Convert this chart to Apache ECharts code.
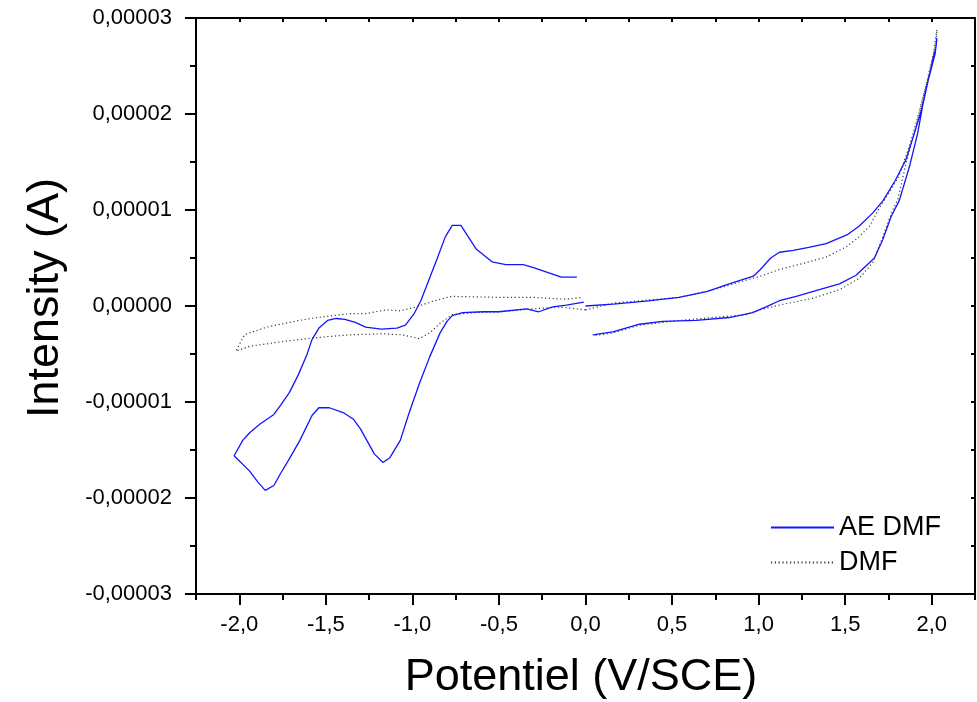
<!DOCTYPE html>
<html>
<head>
<meta charset="utf-8">
<title>Voltammogramme AE DMF / DMF</title>
<script src="https://cdn.jsdelivr.net/npm/echarts@6/dist/echarts.min.js"></script>
<style>
  html, body { margin: 0; padding: 0; background: #ffffff; }
  #chart { width: 977px; height: 702px; }
</style>
</head>
<body>
<div id="chart"></div>
<script>
// Potentials in V/SCE, currents in units of 1e-5 A (axis labels show amperes).

// AE DMF, negative window: sweep from 0 V down to -2.03 V
const aeNegFwdX = [-0.01, -0.11, -0.19, -0.27, -0.34, -0.50, -0.59, -0.71, -0.77, -0.80, -0.84, -0.90, -0.96, -1.02, -1.07, -1.13, -1.17, -1.22, -1.26, -1.30, -1.34, -1.40, -1.48, -1.54, -1.58, -1.65, -1.71, -1.76, -1.80, -1.85, -1.89, -1.94, -2.03];
const aeNegFwdY = [0.04, 0.01, -0.01, -0.06, -0.03, -0.06, -0.06, -0.07, -0.10, -0.16, -0.28, -0.53, -0.81, -1.12, -1.40, -1.58, -1.63, -1.54, -1.41, -1.28, -1.18, -1.11, -1.06, -1.06, -1.14, -1.40, -1.59, -1.74, -1.87, -1.92, -1.84, -1.72, -1.56];
// AE DMF, negative window: return sweep back towards 0 V
const aeNegRevX = [-1.98, -1.94, -1.88, -1.80, -1.76, -1.71, -1.66, -1.61, -1.58, -1.54, -1.49, -1.44, -1.39, -1.33, -1.27, -1.18, -1.09, -1.04, -0.99, -0.95, -0.92, -0.86, -0.81, -0.77, -0.72, -0.63, -0.54, -0.46, -0.36, -0.30, -0.14, -0.05];
const aeNegRevY = [-1.40, -1.32, -1.23, -1.13, -1.03, -0.90, -0.72, -0.51, -0.35, -0.23, -0.15, -0.13, -0.14, -0.17, -0.22, -0.24, -0.23, -0.20, -0.08, 0.06, 0.20, 0.48, 0.72, 0.84, 0.84, 0.59, 0.46, 0.43, 0.43, 0.40, 0.30, 0.30];
// AE DMF, positive window: sweep from 0 V up to 2.03 V
const aePosFwdX = [0.00, 0.16, 0.35, 0.54, 0.70, 0.83, 0.97, 1.01, 1.07, 1.12, 1.20, 1.29, 1.39, 1.51, 1.58, 1.66, 1.72, 1.79, 1.85, 1.90, 1.94, 1.97, 2.00, 2.02, 2.03];
const aePosFwdY = [0.00, 0.02, 0.05, 0.09, 0.15, 0.23, 0.31, 0.38, 0.50, 0.56, 0.58, 0.61, 0.65, 0.74, 0.83, 0.97, 1.10, 1.31, 1.52, 1.80, 2.04, 2.28, 2.49, 2.63, 2.79];
// AE DMF, positive window: return sweep
const aePosRevX = [2.025, 2.005, 1.976, 1.947, 1.919, 1.871, 1.813, 1.765, 1.717, 1.669, 1.563, 1.467, 1.351, 1.217, 1.120, 1.043, 0.966, 0.831, 0.639, 0.446, 0.312, 0.158, 0.042];
const aePosRevY = [2.70, 2.55, 2.32, 2.08, 1.80, 1.45, 1.10, 0.93, 0.69, 0.50, 0.32, 0.23, 0.17, 0.10, 0.055, -0.01, -0.07, -0.12, -0.15, -0.16, -0.19, -0.27, -0.30];

// DMF blank, negative window
const dmfNegFwdX = [0.00, -0.15, -0.30, -0.50, -0.65, -0.77, -0.84, -0.90, -0.96, -1.06, -1.17, -1.36, -1.56, -1.75, -1.94, -2.02];
const dmfNegFwdY = [-0.04, -0.01, -0.03, -0.06, -0.07, -0.09, -0.18, -0.28, -0.34, -0.30, -0.29, -0.30, -0.33, -0.37, -0.42, -0.47];
const dmfNegRevX = [-1.97, -1.94, -1.84, -1.79, -1.65, -1.59, -1.46, -1.36, -1.27, -1.15, -1.07, -0.98, -0.88, -0.80, -0.77, -0.50, -0.30, -0.21, -0.11, -0.02];
const dmfNegRevY = [-0.30, -0.28, -0.22, -0.20, -0.15, -0.13, -0.10, -0.08, -0.08, -0.04, -0.05, -0.01, 0.05, 0.09, 0.10, 0.09, 0.09, 0.08, 0.07, 0.09];
// DMF blank, positive window
const dmfPosFwdX = [0.00, 0.16, 0.35, 0.54, 0.74, 0.89, 1.01, 1.12, 1.27, 1.39, 1.51, 1.58, 1.64, 1.70, 1.74, 1.81, 1.87, 1.92, 1.97, 2.01, 2.03];
const dmfPosFwdY = [-0.04, 0.03, 0.06, 0.09, 0.17, 0.25, 0.31, 0.38, 0.45, 0.51, 0.62, 0.72, 0.83, 1.03, 1.14, 1.35, 1.66, 1.97, 2.32, 2.63, 2.88];
const dmfPosRevX = [2.025, 1.986, 1.947, 1.909, 1.852, 1.803, 1.774, 1.717, 1.659, 1.582, 1.467, 1.312, 1.120, 1.005, 0.928, 0.543, 0.312, 0.158, 0.042];
const dmfPosRevY = [2.74, 2.42, 2.15, 1.87, 1.49, 1.10, 1.00, 0.72, 0.45, 0.29, 0.17, 0.08, 0.01, -0.04, -0.09, -0.15, -0.20, -0.28, -0.31];

const seriesNames = ['AE DMF', 'DMF'];
const xTitle = 'Potentiel (V/SCE)';
const yTitle = 'Intensity (A)';

const FONT = '"Liberation Sans", Arial, Helvetica, sans-serif';
const GAP = ['-', '-'];

function pairs(xs, ys) {
  return xs.map((x, i) => [x, ys[i]]);
}

const aeData = [].concat(
  pairs(aeNegFwdX, aeNegFwdY), pairs(aeNegRevX, aeNegRevY), [GAP],
  pairs(aePosFwdX, aePosFwdY), pairs(aePosRevX, aePosRevY)
);
const dmfData = [].concat(
  pairs(dmfNegFwdX, dmfNegFwdY), pairs(dmfNegRevX, dmfNegRevY), [GAP],
  pairs(dmfPosFwdX, dmfPosFwdY), pairs(dmfPosRevX, dmfPosRevY)
);

const BLACK = '#000000';
const axisLineStyle = { color: BLACK, width: 2 };

function fmtCurrent(v) {
  const a = Math.abs(v) < 1e-9 ? 0 : v * 1e-5;
  return a.toFixed(5).replace('.', ',');
}
function fmtPotential(v) {
  const a = Math.abs(v) < 1e-9 ? 0 : v;
  return a.toFixed(1).replace('.', ',');
}

// main plot box spans -2.25..2.25 V over 779 px
const PLOT_LEFT = 196, PLOT_WIDTH = 779, PLOT_TOP = 18, PLOT_HEIGHT = 576;
const PX_PER_V = PLOT_WIDTH / 4.5;

const chart = echarts.init(document.getElementById('chart'), null, { renderer: 'canvas' });

chart.setOption({
  animation: false,
  backgroundColor: '#ffffff',
  textStyle: { fontFamily: FONT },
  grid: [
    { left: PLOT_LEFT, top: PLOT_TOP, width: PLOT_WIDTH, height: PLOT_HEIGHT },
    // labelled ticks every 0.5 V from -2.0 to 2.0
    { left: PLOT_LEFT + 0.25 * PX_PER_V, top: PLOT_TOP, width: 4 * PX_PER_V, height: PLOT_HEIGHT }
  ],
  xAxis: [
    {
      gridIndex: 0, type: 'value', position: 'bottom',
      min: -2.25, max: 2.25, interval: 0.25,
      axisLine: { show: true, onZero: false, lineStyle: axisLineStyle },
      axisTick: { show: true, inside: false, length: 6, lineStyle: axisLineStyle },
      axisLabel: { show: false },
      splitLine: { show: false }
    },
    {
      gridIndex: 0, type: 'value', position: 'top',
      min: -2.25, max: 2.25, interval: 0.25,
      axisLine: { show: true, onZero: false, lineStyle: axisLineStyle },
      axisTick: { show: true, inside: true, length: 4, lineStyle: axisLineStyle },
      axisLabel: { show: false },
      splitLine: { show: false }
    },
    {
      gridIndex: 1, type: 'value', position: 'bottom',
      min: -2, max: 2, interval: 0.5,
      axisLine: { show: false, onZero: false },
      axisTick: { show: true, inside: false, length: 11, lineStyle: axisLineStyle },
      axisLabel: {
        show: true, margin: 20, fontSize: 22, color: BLACK, fontFamily: FONT,
        formatter: fmtPotential
      },
      splitLine: { show: false }
    }
  ],
  yAxis: [
    {
      gridIndex: 0, type: 'value', position: 'left',
      min: -3, max: 3, interval: 1,
      axisLine: { show: true, onZero: false, lineStyle: axisLineStyle },
      axisTick: { show: true, inside: false, length: 11, lineStyle: axisLineStyle },
      minorTick: { show: true, splitNumber: 2, length: 6, lineStyle: axisLineStyle },
      axisLabel: {
        show: true, margin: 24, fontSize: 22, color: BLACK, fontFamily: FONT,
        formatter: fmtCurrent
      },
      splitLine: { show: false },
      minorSplitLine: { show: false }
    },
    {
      gridIndex: 0, type: 'value', position: 'right',
      min: -3, max: 3, interval: 0.5,
      axisLine: { show: true, onZero: false, lineStyle: axisLineStyle },
      axisTick: { show: true, inside: true, length: 4, lineStyle: axisLineStyle },
      axisLabel: { show: false },
      splitLine: { show: false }
    },
    { gridIndex: 1, type: 'value', show: false, min: 0, max: 1, splitLine: { show: false } }
  ],
  legend: {
    show: true,
    orient: 'vertical',
    left: 770,
    top: 514,
    padding: 0,
    itemGap: 8,
    itemWidth: 63,
    itemHeight: 14,
    selectedMode: false,
    data: seriesNames,
    // line samples only, no marker in the middle
    itemStyle: { opacity: 0, color: 'rgba(0,0,0,0)', borderWidth: 0 },
    textStyle: { fontSize: 27, color: BLACK, fontFamily: FONT }
  },
  graphic: [
    {
      type: 'text', x: 581, y: 678, silent: true,
      style: {
        text: xTitle, font: '45px ' + FONT, fill: BLACK,
        textAlign: 'center', textVerticalAlign: 'middle',
        align: 'center', verticalAlign: 'middle'
      }
    },
    {
      type: 'text', x: 46, y: 298, rotation: Math.PI / 2, silent: true,
      style: {
        text: yTitle, font: '45px ' + FONT, fill: BLACK,
        textAlign: 'center', textVerticalAlign: 'middle',
        align: 'center', verticalAlign: 'middle'
      }
    }
  ],
  series: [
    {
      name: seriesNames[0], type: 'line', xAxisIndex: 0, yAxisIndex: 0,
      data: aeData, symbol: 'none', showSymbol: false, connectNulls: false,
      smooth: false, z: 3,
      lineStyle: { color: '#1414ff', width: 1.3, type: 'solid' },
      itemStyle: { color: '#1414ff' }
    },
    {
      name: seriesNames[1], type: 'line', xAxisIndex: 0, yAxisIndex: 0,
      data: dmfData, symbol: 'none', showSymbol: false, connectNulls: false,
      smooth: false, z: 2,
      lineStyle: { color: '#3a3a3a', width: 1.2, type: [1.2, 2.6] },
      itemStyle: { color: '#3a3a3a' }
    }
  ]
});
</script>
</body>
</html>
